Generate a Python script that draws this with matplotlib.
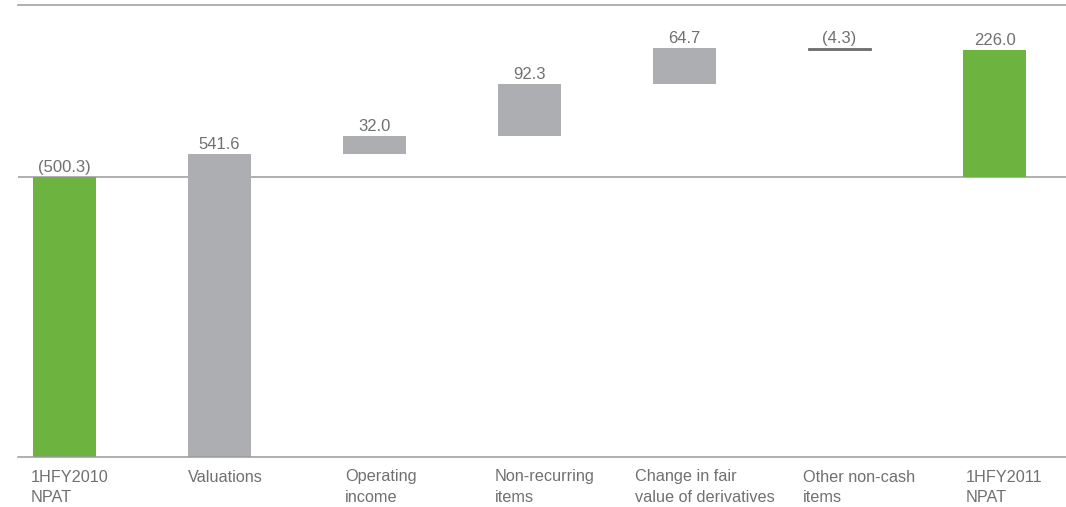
import numpy as np
import matplotlib.pyplot as plt

plt.rcParams['font.family'] = ['Liberation Sans', 'DejaVu Sans']

categories = ['1HFY2010\nNPAT', 'Valuations', 'Operating\nincome', 'Non-recurring\nitems',
              'Change in fair\nvalue of derivatives', 'Other non-cash\nitems', '1HFY2011\nNPAT']
changes = [-500.3, 541.6, 32.0, 92.3, 64.7, -4.3]
total = 226.0
value_labels = ['(500.3)', '541.6', '32.0', '92.3', '64.7', '(4.3)', '226.0']

green = '#6cb43f'
grey = '#adaeb1'
dark = '#6f6f72'
txt = '#707070'

# running totals for the floating bars
ends = np.cumsum(changes)
starts = np.concatenate([[0], ends[:-1]])
bottoms = list(np.minimum(starts, ends)) + [0]
heights = list(np.abs(changes)) + [total]
colors = [green] + [grey] * 4 + [dark, green]

fig = plt.figure(figsize=(10.66, 5.07), dpi=100)
ax = fig.add_axes([18 / 1066, 50 / 507, 1048 / 1066, 452 / 507])

x = np.arange(len(categories))
w = 0.41
bars = ax.bar(x, heights, bottom=bottoms, width=w, color=colors, linewidth=0, zorder=2)
bars[5].set_edgecolor(dark)
bars[5].set_linewidth(0.6)

ax.set_xlim(-0.3, 6.461)
ax.set_ylim(-500.3, 307)

ax.axhline(0, color='#9a9a9a', lw=1.1, zorder=1)
for s in ['left', 'right']:
    ax.spines[s].set_visible(False)
for s in ['top', 'bottom']:
    ax.spines[s].set_color('#9a9a9a')
    ax.spines[s].set_linewidth(1.1)
ax.set_xticks([])
ax.set_yticks([])

# value labels above each bar (or above zero for the opening loss)
tops = [max(b + h, 0) for b, h in zip(bottoms, heights)]
for xi, t, lab in zip(x, tops, value_labels):
    ax.annotate(lab, (xi, t), xytext=(0, 1.5), textcoords='offset points',
                ha='center', va='bottom', fontsize=12, color=txt)

# category names, left aligned under each bar (nudged in points)
nudge = [-1.5, 0, 1.5, -2, -13, -3.5, 2]
for xi, cat, dx in zip(x, categories, nudge):
    ax.annotate(cat, (xi - w / 2, 0), xycoords=('data', 'axes fraction'),
                xytext=(dx, -9), textcoords='offset points',
                ha='left', va='top', fontsize=11.7, color=txt, linespacing=1.45)

fig.savefig('out.png', dpi=100)
